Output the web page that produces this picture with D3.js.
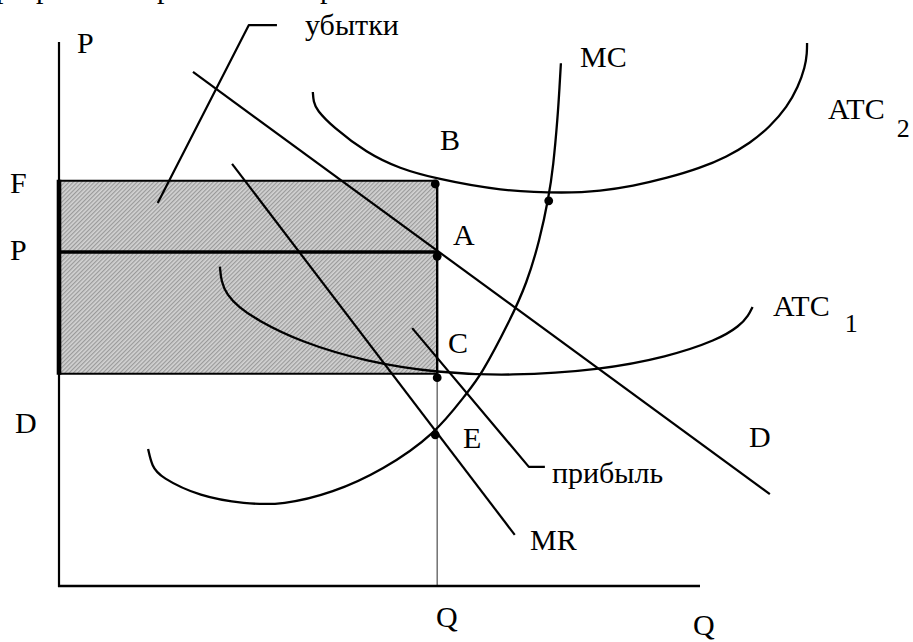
<!DOCTYPE html>
<html><head><meta charset="utf-8">
<script src="https://cdn.jsdelivr.net/npm/d3@7"></script>
<style>
body{margin:0;background:#fff}
svg{display:block}
text{font-family:"Liberation Serif","Times New Roman",serif;fill:#000}
</style>
</head><body>
<svg id="c" width="913" height="642"></svg>
<script>
// ---- data (quantity q on x, price p on y, arbitrary units 0..10) ----
const qDomain = [0, 10];
const pDomain = [0, 10];
const qStar = 5.9;
const priceLevels = { F: 7.45, P: 6.14, C: 3.9 };
const demandLine = [[2.09, 9.45], [11.09, 1.69]];
const mrLine = [[2.70, 7.76], [7.11, 0.94]];
const mcCurve = [[1.39,2.52],[1.45,2.20],[1.58,2.00],[2.20,1.64],[2.90,1.51],[3.49,1.49],[4.27,1.71],[5.05,2.13],[5.87,2.79],[6.36,3.55],[6.57,3.84],[7.04,4.89],[7.30,5.57],[7.50,6.36],[7.64,7.15],[7.71,7.70],[7.78,8.62],[7.81,9.20],[7.83,9.61]];
const atc1Curve = [[2.51,5.87],[2.53,5.60],[2.62,5.35],[2.80,5.13],[3.09,4.89],[3.76,4.49],[4.80,4.12],[5.90,3.92],[7.04,3.86],[8.44,3.97],[9.49,4.21],[10.27,4.52],[10.62,4.78],[10.76,4.98],[10.82,5.13]];
const atc2Curve = [[3.96,9.08],[3.97,8.90],[4.02,8.75],[4.27,8.44],[4.80,7.96],[5.32,7.67],[5.87,7.49],[6.88,7.26],[7.93,7.22],[8.44,7.26],[8.95,7.35],[9.49,7.50],[10.0,7.68],[10.42,7.89],[10.78,8.14],[11.09,8.44],[11.36,8.81],[11.53,9.17],[11.64,9.54],[11.67,9.80],[11.67,9.98]];
const dots = [[5.87,7.39],[5.9,6.06],[5.9,3.83],[5.87,2.78],[7.64,7.08]];
const lossPointer = [[1.54,7.04],[2.96,10.31],[3.40,10.31]];
const profitPointer = [[5.51,4.74],[7.33,2.19],[7.58,2.19]];
const labelTexts = ["P","F","P","D","B","A","C","E","MC","ATC","ATC","D","MR","Q","Q","убытки","прибыль"];
const labelAnchors = [[0.281,9.80],[-0.764,7.22],[-0.764,5.99],[-0.686,2.81],[5.944,8.01],[6.147,6.27],[6.069,4.28],[6.303,2.54],[8.128,9.54],[11.997,8.59],[11.139,4.97],[10.764,2.555],[7.348,0.662],[5.881,-0.754],[9.891,-0.901],[3.838,10.13],[7.691,1.893]];
const subTexts = ["2","1"];
const subAnchors = [[13.07,8.26],[12.26,4.66]];
const headingTexts = ["р","р","р","р"];
const headingAnchors = [[-0.983,10.815],[-0.359,10.815],[1.529,10.815],[4.071,10.815]];

// ---- drawing ----
const svg = d3.select("#c");
const x = d3.scaleLinear().domain(qDomain).range([59, 700]);
const y = d3.scaleLinear().domain(pDomain).range([586, 42]);

const defs = svg.append("defs");
const pat = defs.append("pattern").attr("id","hatch").attr("width",3).attr("height",3)
  .attr("patternUnits","userSpaceOnUse").attr("patternTransform","rotate(45)");
pat.append("rect").attr("width",3).attr("height",3).attr("fill","#d3d3d3");
pat.append("line").attr("x1",0.6).attr("y1",0).attr("x2",0.6).attr("y2",3).attr("stroke","#9a9a9a").attr("stroke-width",1.2);

// shaded rectangle (F..C)
svg.append("rect").attr("x", x(0)).attr("y", y(priceLevels.F))
  .attr("width", x(qStar) - x(0)).attr("height", y(priceLevels.C) - y(priceLevels.F))
  .attr("fill","url(#hatch)");

const seg = (x1,y1,x2,y2,w,c) => svg.append("line").attr("x1",x1).attr("y1",y1).attr("x2",x2).attr("y2",y2)
  .attr("stroke",c||"#000").attr("stroke-width",w);

// vertical at Q*
seg(x(qStar), y(priceLevels.C), x(qStar), y(0), 1.4, "#666");
// axes
seg(x(0), y(pDomain[1]), x(0), y(0)+1, 2.2);
seg(x(0)-1, y(0), x(qDomain[1]), y(0), 2.4);
// rect borders
seg(x(0), y(priceLevels.F), x(qStar), y(priceLevels.F), 2);
seg(x(0), y(priceLevels.P), x(qStar), y(priceLevels.P), 3.6);
seg(x(0), y(priceLevels.C), x(qStar), y(priceLevels.C), 2);
seg(x(qStar), y(priceLevels.F), x(qStar), y(priceLevels.C), 2.4);
seg(x(0), y(priceLevels.F)-1, x(0), y(priceLevels.C)+1, 4.6);

const line = d3.line().x(d=>x(d[0])).y(d=>y(d[1]));
const curve = d3.line().x(d=>x(d[0])).y(d=>y(d[1])).curve(d3.curveBasis);
const draw = (gen, data, w) => svg.append("path").attr("d", gen(data)).attr("fill","none")
  .attr("stroke","#000").attr("stroke-width", w).attr("stroke-linejoin","round");

draw(line, demandLine, 2.2);
draw(line, mrLine, 2.2);
draw(curve, mcCurve, 2.3);
draw(curve, atc1Curve, 2.3);
draw(curve, atc2Curve, 2.3);
draw(line, lossPointer, 2.2);
draw(line, profitPointer, 2.2);

svg.selectAll("circle.pt").data(dots).join("circle").attr("class","pt")
  .attr("cx", d=>x(d[0])).attr("cy", d=>y(d[1])).attr("r", 4.4).attr("fill","#000");

svg.selectAll("text.lbl").data(labelTexts).join("text").attr("class","lbl")
  .attr("x",(d,i)=>x(labelAnchors[i][0])).attr("y",(d,i)=>y(labelAnchors[i][1]))
  .attr("font-size",30).text(d=>d);
svg.selectAll("text.sub").data(subTexts).join("text").attr("class","sub")
  .attr("x",(d,i)=>x(subAnchors[i][0])).attr("y",(d,i)=>y(subAnchors[i][1]))
  .attr("font-size",26).text(d=>d);
svg.selectAll("text.head").data(headingTexts).join("text").attr("class","head")
  .attr("x",(d,i)=>x(headingAnchors[i][0])).attr("y",(d,i)=>y(headingAnchors[i][1]))
  .attr("font-size",30).text(d=>d);
</script>
</body></html>
